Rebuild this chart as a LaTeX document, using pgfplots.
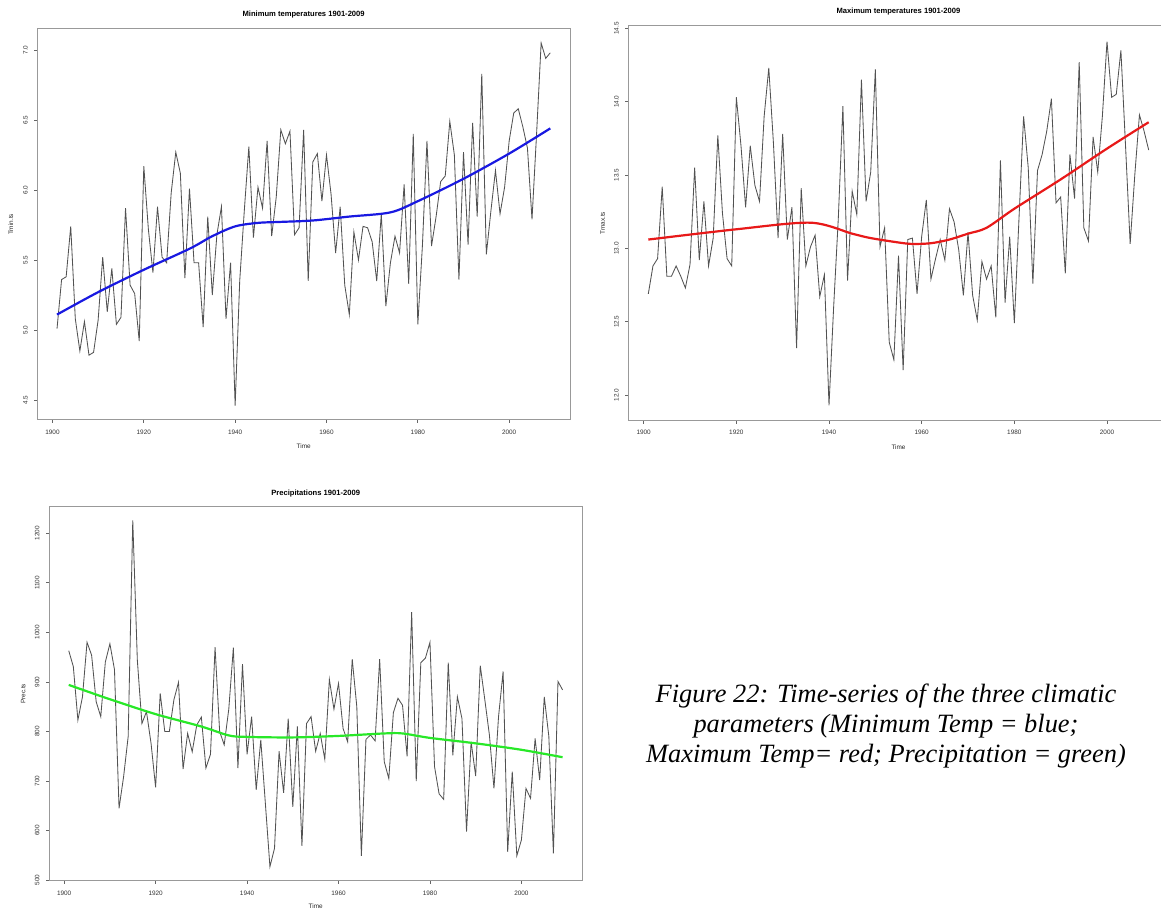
\documentclass[border=0pt]{standalone}
\usepackage{pgfplots}
\pgfplotsset{compat=1.18}
\usepackage{pgfplotstable}
\usepackage{fontspec}
\setmainfont{Liberation Sans}
\newfontfamily\capfont{Liberation Serif}

\definecolor{rblue}{RGB}{25,25,225}
\definecolor{rred}{RGB}{232,25,25}
\definecolor{rgreen}{RGB}{40,232,40}

\pgfplotstableread{
year val
1901 5.01
1902 5.36
1903 5.38
1904 5.74
1905 5.08
1906 4.85
1907 5.06
1908 4.82
1909 4.84
1910 5.07
1911 5.52
1912 5.13
1913 5.44
1914 5.04
1915 5.09
1916 5.87
1917 5.32
1918 5.26
1919 4.92
1920 6.17
1921 5.72
1922 5.41
1923 5.88
1924 5.52
1925 5.48
1926 5.98
1927 6.27
1928 6.12
1929 5.37
1930 6.01
1931 5.48
1932 5.48
1933 5.02
1934 5.81
1935 5.25
1936 5.68
1937 5.88
1938 5.08
1939 5.48
1940 4.46
1941 5.35
1942 5.85
1943 6.31
1944 5.66
1945 6.02
1946 5.87
1947 6.35
1948 5.67
1949 5.95
1950 6.43
1951 6.33
1952 6.42
1953 5.68
1954 5.73
1955 6.43
1956 5.35
1957 6.20
1958 6.26
1959 5.92
1960 6.25
1961 5.97
1962 5.55
1963 5.88
1964 5.32
1965 5.11
1966 5.70
1967 5.50
1968 5.74
1969 5.73
1970 5.63
1971 5.35
1972 5.83
1973 5.17
1974 5.48
1975 5.67
1976 5.55
1977 6.04
1978 5.33
1979 6.40
1980 5.04
1981 5.60
1982 6.35
1983 5.60
1984 5.81
1985 6.06
1986 6.10
1987 6.49
1988 6.25
1989 5.36
1990 6.27
1991 5.61
1992 6.48
1993 5.81
1994 6.83
1995 5.54
1996 5.85
1997 6.14
1998 5.83
1999 6.02
2000 6.35
2001 6.55
2002 6.58
2003 6.45
2004 6.30
2005 5.79
2006 6.40
2007 7.05
2008 6.94
2009 6.98
}\tmin

\pgfplotstableread{
year val
1901 12.69
1902 12.88
1903 12.93
1904 13.42
1905 12.81
1906 12.81
1907 12.88
1908 12.81
1909 12.73
1910 12.89
1911 13.55
1912 12.92
1913 13.32
1914 12.88
1915 13.07
1916 13.77
1917 13.24
1918 12.93
1919 12.88
1920 14.03
1921 13.70
1922 13.28
1923 13.70
1924 13.43
1925 13.32
1926 13.90
1927 14.23
1928 13.72
1929 13.07
1930 13.78
1931 13.06
1932 13.28
1933 12.32
1934 13.41
1935 12.88
1936 13.01
1937 13.09
1938 12.67
1939 12.82
1940 11.93
1941 12.60
1942 13.20
1943 13.97
1944 12.78
1945 13.39
1946 13.23
1947 14.15
1948 13.32
1949 13.52
1950 14.22
1951 13.01
1952 13.14
1953 12.36
1954 12.24
1955 12.95
1956 12.17
1957 13.06
1958 13.07
1959 12.69
1960 13.08
1961 13.33
1962 12.79
1963 12.93
1964 13.06
1965 12.92
1966 13.27
1967 13.18
1968 12.99
1969 12.68
1970 13.11
1971 12.68
1972 12.51
1973 12.91
1974 12.79
1975 12.88
1976 12.53
1977 13.60
1978 12.63
1979 13.08
1980 12.49
1981 13.20
1982 13.90
1983 13.55
1984 12.76
1985 13.53
1986 13.64
1987 13.80
1988 14.02
1989 13.31
1990 13.35
1991 12.83
1992 13.64
1993 13.34
1994 14.27
1995 13.14
1996 13.05
1997 13.76
1998 13.52
1999 13.90
2000 14.41
2001 14.03
2002 14.05
2003 14.35
2004 13.70
2005 13.03
2006 13.50
2007 13.91
2008 13.80
2009 13.67
}\tmax

\pgfplotstableread{
year val
1901 963
1902 931
1903 823
1904 870
1905 980
1906 954
1907 860
1908 830
1909 940
1910 977
1911 925
1912 645
1913 709
1914 790
1915 1226
1916 944
1917 816
1918 840
1919 776
1920 687
1921 877
1922 800
1923 800
1924 864
1925 899
1926 724
1927 796
1928 759
1929 813
1930 829
1931 726
1932 754
1933 970
1934 800
1935 773
1936 845
1937 969
1938 726
1939 936
1940 754
1941 830
1942 682
1943 783
1944 655
1945 527
1946 564
1947 760
1948 676
1949 826
1950 648
1951 810
1952 569
1953 816
1954 830
1955 760
1956 796
1957 744
1958 905
1959 845
1960 897
1961 806
1962 779
1963 946
1964 850
1965 549
1966 784
1967 793
1968 781
1969 946
1970 739
1971 705
1972 838
1973 867
1974 853
1975 750
1976 1041
1977 700
1978 939
1979 948
1980 980
1981 729
1982 674
1983 663
1984 939
1985 752
1986 870
1987 826
1988 598
1989 779
1990 710
1991 933
1992 864
1993 793
1994 685
1995 830
1996 921
1997 557
1998 719
1999 549
2000 581
2001 685
2002 665
2003 786
2004 702
2005 870
2006 790
2007 554
2008 901
2009 884
}\prec

\pgfplotsset{
  rplot/.style={
    scale only axis, anchor=south west,
    xmin=1896.68, xmax=2013.32,
    axis line style={black!40, line width=0.5pt},
    tick style={black!60, line width=0.4pt},
    tick align=outside, major tick length=1.5pt,
    xtick={1900,1920,1940,1960,1980,2000},
    xtick pos=lower, ytick pos=left,
    font=\fontsize{3.2}{3.8}\selectfont,
    ticklabel style={font=\fontsize{3.2}{3.8}\selectfont, text=black!80, inner sep=3.1pt},
    /pgf/number format/assume math mode=true,
    x tick label style={/pgf/number format/1000 sep={}},
    yticklabel style={rotate=90, anchor=south},
    label style={font=\fontsize{3.2}{3.8}\selectfont, text=black!85},
    title style={font=\bfseries\fontsize{3.8}{4.5}\selectfont, at={(axis description cs:0.5,1)}, anchor=center, yshift=1pt},
    axis background/.style={fill=white},
  },
  raw/.style={draw=black!68, line width=0.42pt, no marks},
  fit/.style={line width=1.1pt, no marks, smooth},
}

\begin{document}
\begin{tikzpicture}[x=1pt,y=1pt]
\useasboundingbox (0,0) rectangle (580.5,454.5);

% Panel 1: minimum temperatures
\begin{axis}[rplot,
  at={(18.65pt,244.5pt)}, width=266.35pt, height=195.5pt,
  ymin=4.357, ymax=7.15,
  ytick={4.5,5,5.5,6,6.5,7},
  y tick label style={/pgf/number format/fixed, /pgf/number format/fixed zerofill, /pgf/number format/precision=1},
  title={Minimum temperatures 1901-2009},
  xlabel={Time}, ylabel={Tmin.ts},
  xlabel style={at={(axis description cs:0.5,-0.0683)}, anchor=center},
  ylabel style={at={(axis description cs:-0.0499,0.5)}, anchor=center},
]
\addplot[raw] table[x=year,y=val] {\tmin};
\addplot[fit, rblue] coordinates {
(1901,5.11) (1910,5.27) (1920,5.43) (1930,5.58) (1935,5.67) (1940,5.74)
(1945,5.765) (1950,5.772) (1957,5.782) (1965,5.81) (1974,5.84)
(1980,5.92) (1990,6.08) (2000,6.26) (2009,6.44)};
\end{axis}

% Panel 2: maximum temperatures
\begin{axis}[rplot,
  at={(314.15pt,244.15pt)}, width=270.2pt, height=197.35pt,
  ymin=11.825, ymax=14.516,
  ytick={12,12.5,13,13.5,14,14.5},
  y tick label style={/pgf/number format/fixed, /pgf/number format/fixed zerofill, /pgf/number format/precision=1},
  title={Maximum temperatures 1901-2009},
  xlabel={Time}, ylabel={Tmax.ts},
  xlabel style={at={(axis description cs:0.5,-0.0674)}, anchor=center},
  ylabel style={at={(axis description cs:-0.0474,0.5)}, anchor=center},
]
\addplot[raw] table[x=year,y=val] {\tmax};
\addplot[fit, rred] coordinates {
(1901,13.06) (1920,13.13) (1936,13.175) (1945,13.10) (1949,13.07)
(1955,13.04) (1958,13.03) (1962,13.035) (1966,13.06) (1970,13.10)
(1974,13.14) (1980,13.27) (1990,13.47) (2000,13.68) (2009,13.86)};
\end{axis}

% Panel 3: precipitation
\begin{axis}[rplot,
  at={(24.5pt,14pt)}, width=266.65pt, height=187.15pt,
  ymin=498.1, ymax=1253.8,
  ytick={500,600,700,800,900,1000,1100,1200},
  y tick label style={/pgf/number format/1000 sep={}},
  title={Precipitations 1901-2009},
  title style={yshift=-0.5pt},
  xlabel={Time}, ylabel={Prec.ts},
  xlabel style={at={(axis description cs:0.5,-0.0687)}, anchor=center},
  ylabel style={at={(axis description cs:-0.0482,0.5)}, anchor=center},
]
\addplot[raw] table[x=year,y=val] {\prec};
\addplot[fit, rgreen] coordinates {
(1901,894) (1910,865) (1920,835) (1930,810) (1936,792) (1940,789)
(1950,788) (1960,791) (1970,796) (1974,796) (1980,787) (1990,776)
(2000,763) (2009,748)};
\end{axis}

\node[align=center, font=\capfont\itshape\fontsize{13.2}{15}\selectfont, text=black]
  at (443,91.5) {Figure 22: Time-series of the three climatic\\parameters (Minimum Temp = blue;\\Maximum Temp= red; Precipitation = green)};
\end{tikzpicture}
\end{document}
